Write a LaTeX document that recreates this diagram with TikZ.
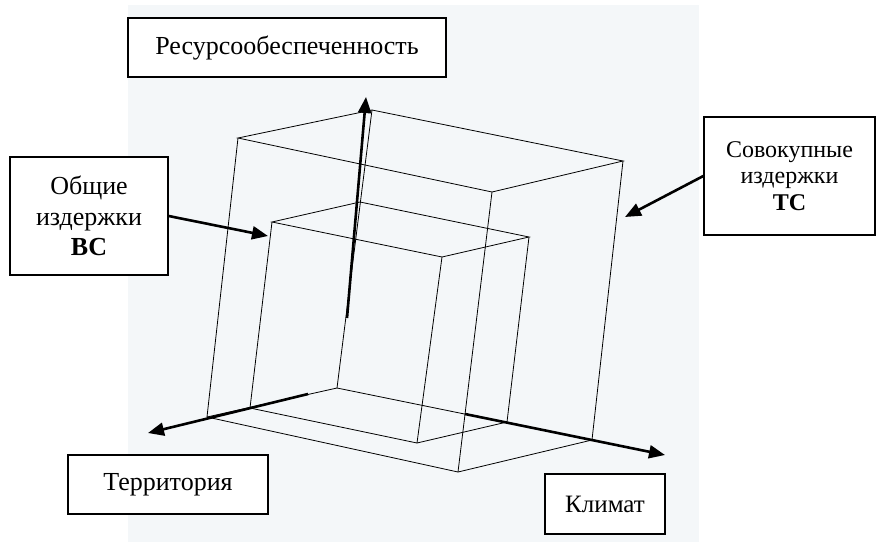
\documentclass[tikz,border=0pt]{standalone}
\usepackage{fontspec}
\setmainfont{Liberation Serif}
\usetikzlibrary{arrows.meta}
\definecolor{bgfill}{RGB}{244,247,249}
\tikzset{
  lbl/.style={draw,line width=1.4pt,fill=white,align=center,inner sep=0pt,font=\fontsize{26}{30}\selectfont},
  wire/.style={line width=0.8pt},
  axis/.style={line width=2.6pt,-{Triangle[length=16pt,width=13pt]}}
}
\begin{document}
\begin{tikzpicture}[x=1pt,y=-1pt]
    \useasboundingbox (0,0) rectangle (876,542);
    \fill[bgfill] (128,5) rectangle (699,542);
    % outer box
    \coordinate (A) at (372,110); \coordinate (B) at (238,138);
    \coordinate (C) at (623,161); \coordinate (D) at (492,192);
    \coordinate (E) at (207,417); \coordinate (F) at (458,472);
    \coordinate (G) at (592,440); \coordinate (H) at (337,388);
    \draw[wire] (B) -- (A) -- (C) -- (D) -- cycle;
    \foreach \u/\v in {A/H,B/E,C/G,D/F,E/F,F/G,H/E,H/G}{
    \draw[wire] (\u) -- (\v);
    }
    % inner box
    \coordinate (A1) at (360,202); \coordinate (B1) at (272,222);
    \coordinate (C1) at (529,237); \coordinate (D1) at (442,257);
    \coordinate (E1) at (250,408); \coordinate (F1) at (417,443);
    \coordinate (G1) at (507,422);
    \draw[wire] (B1) -- (A1) -- (C1) -- (D1) -- cycle;
    \foreach \u/\v in {B1/E1,C1/G1,D1/F1,E1/F1,F1/G1}{
    \draw[wire] (\u) -- (\v);
    }
    % labels
    \node[lbl,minimum width=318pt,minimum height=59pt] (res) at (287,47.5) {Ресурсообеспеченность};
    \node[lbl,minimum width=158pt,minimum height=118pt,font=\fontsize{26}{30.5}\selectfont] (obsh) at (89,216) {Общие\\издержки\\\textbf{ВС}};
    \node[lbl,minimum width=171pt,minimum height=118pt,font=\fontsize{24}{26.5}\selectfont] (sov) at (789.5,176) {Совокупные\\издержки\\\textbf{ТС}};
    \node[lbl,minimum width=200pt,minimum height=59pt] (terr) at (168,484.5) {Территория};
    \node[lbl,minimum width=120pt,minimum height=60pt,font=\fontsize{25}{30}\selectfont] (klim) at (605,504) {Климат};
    % axes
    \coordinate (r0) at (347,318); \coordinate (r1) at (366,97);
    \coordinate (t0) at (308,394); \coordinate (t1) at (148,433);
    \coordinate (k0) at (465,414); \coordinate (k1) at (665,455);
    \coordinate (bc) at (268,236); \coordinate (tc) at (625,217);
    \draw[axis] (r0) -- (r1);
    \draw[axis] (t0) -- (t1);
    \draw[axis] (k0) -- (k1);
    \draw[axis] (obsh.east) -- (bc);
    \draw[axis] (sov.west) -- (tc);
\end{tikzpicture}
\end{document}
